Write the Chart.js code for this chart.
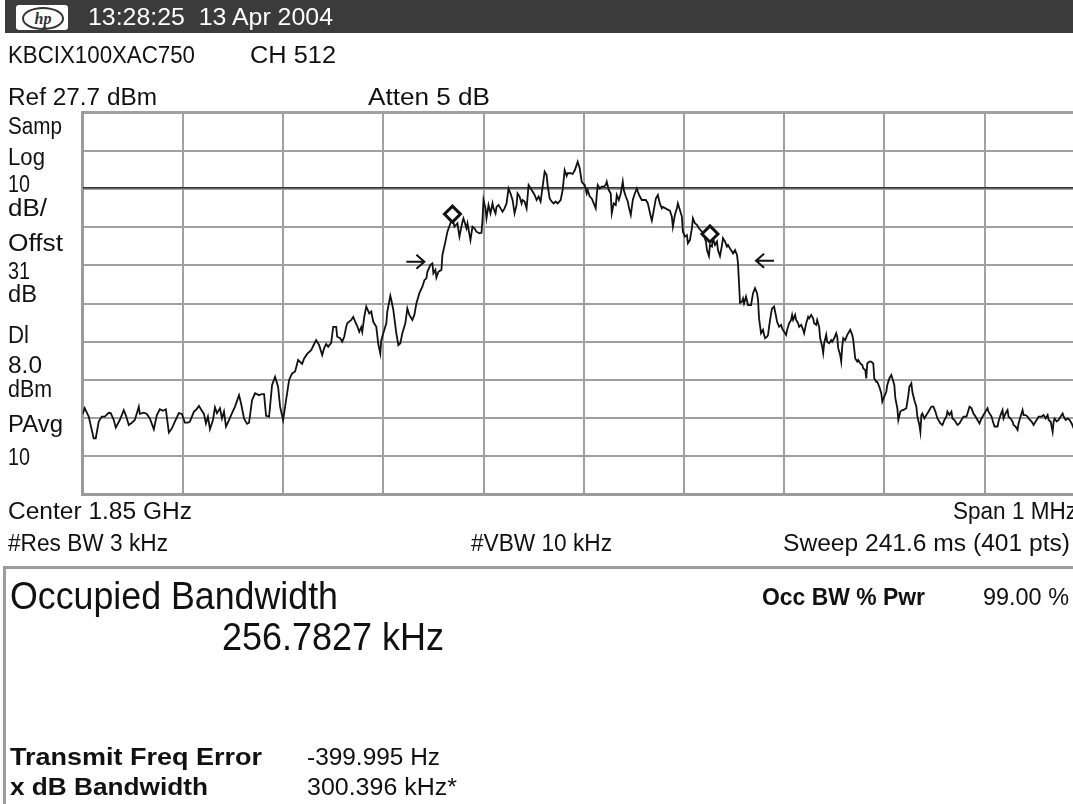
<!DOCTYPE html>
<html>
<head>
<meta charset="utf-8">
<title>Occupied Bandwidth</title>
<script src="https://cdn.jsdelivr.net/npm/chart.js@4.4.1/dist/chart.umd.min.js"></script>
<style>
  html, body { margin: 0; padding: 0; background: #fff; overflow: hidden; }
  body { width: 1073px; height: 804px; position: relative; }
  #bar { position: absolute; left: 5px; top: 0; width: 1068px; height: 33px; background: #3b3b3b; }
  #logo { position: absolute; left: 11px; top: 5px; width: 52px; height: 25px; background: #fff; border-radius: 3px; }
  #logo span { position: absolute; left: 6px; top: 2px; width: 38px; height: 19px; border: 2px solid #333; border-radius: 50%;
               font: italic bold 16px "Liberation Serif", serif; color: #333; text-align: center; line-height: 19px; }
  #plotWrap { position: absolute; left: 0; top: 0; width: 1100px; height: 804px; }
  #box { position: absolute; left: 3px; top: 566px; width: 1100px; height: 260px; border: 3px solid #9c9c9c; box-sizing: border-box; }
  .t { position: absolute; white-space: pre; line-height: 1; transform-origin: 0 50%; color: #111; }
</style>
</head>
<body>
<div id="bar"><div id="logo"><span>hp</span></div></div>
<div id="box"></div>
<div id="plotWrap"><canvas id="spec"></canvas></div>
<script>
// trace: frequency offset from 1.85 GHz centre (kHz) and level (dBm)
const traceFreq = [
  -500, -498, -494, -489, -487, -484, -481, -478, -474, -472,
  -469, -467, -463, -459, -457, -454, -451, -448, -444, -443,
  -439, -436, -433, -429, -426, -423, -420, -417, -414, -411,
  -408, -404, -401, -398, -395, -393, -389, -387, -384, -382,
  -379, -377, -375, -373, -370, -368, -366, -363, -361, -359,
  -357, -354, -351, -348, -344, -342, -339, -336, -334, -331,
  -328, -324, -321, -319, -317, -314, -311, -308, -305, -303,
  -300, -298, -294, -291, -288,
  -285, -281, -279, -276, -272, -269, -267, -264, -261, -259,
  -257, -255, -252, -250, -247, -246, -243, -241, -239, -237,
  -236, -232, -230, -228, -226, -224, -222, -221, -219, -217,
  -214, -212, -210, -207, -205, -203, -202, -200, -197, -196,
  -193, -192, -190, -187, -185, -183, -181, -178, -176, -174,
  -171, -169, -167, -164, -161, -159, -157, -156, -153, -151,
  -150, -148, -147, -145, -142, -141, -138, -136, -133, -131,
  -129, -126, -124, -121, -120, -117, -116, -113, -111, -109,
  -107, -104,
  -102, -101, -100, -98, -97, -95, -93, -91, -90, -88,
  -87, -85, -83, -81, -79, -77, -75, -73, -71, -69,
  -67, -66, -64, -62, -61, -59, -57, -55, -52, -51,
  -49, -47, -45, -43, -41, -39, -37, -36, -34, -32,
  -30, -28, -26, -23, -21, -19, -17, -16, -13, -11,
  -9, -7, -6, -4, -2, -1, 1, 3, 4, 6,
  8, 10, 12, 13, 14, 16, 18, 20, 22, 23,
  25, 27, 28, 30, 32, 33, 35, 37, 39, 40,
  42, 44, 45, 47, 49, 51, 53, 54, 56, 58,
  60, 62, 64, 67, 68, 70, 72,
  74, 76, 78, 79, 83, 86, 88, 89, 91, 93,
  94, 96, 98, 99, 101, 103, 104, 106, 108, 109,
  111, 113, 115, 118, 120, 122, 123, 125, 126, 128,
  129, 131, 133, 134, 136, 138, 139, 141, 143, 144,
  146, 148, 149, 151, 153, 154, 156,
  158, 159, 160, 162, 164, 167, 169, 171, 173, 174,
  175, 177, 179, 180, 181, 183, 184, 185, 187, 188,
  190, 192, 193, 195, 197, 198, 200, 202, 203, 205,
  207, 208, 209, 211, 212, 214, 215, 217, 219, 220,
  222, 224, 225, 227, 229, 230, 232, 233, 235, 236,
  238, 239, 240, 242, 243, 245, 247, 248, 250, 252,
  253, 254, 256, 257, 258, 259, 261, 263, 264, 266,
  268, 269, 271, 273, 274, 276, 278, 279, 281, 282,
  283, 285, 287, 289, 290, 292, 293, 295,
  297, 298, 300, 302, 303, 305, 307, 308, 310, 311,
  313, 314, 316, 318, 319, 322, 324, 325, 327, 328,
  330, 332, 333, 335, 336, 337, 338, 340, 342, 343,
  345, 347, 349, 351, 353, 356, 358, 360, 362, 363,
  365, 367, 368, 370, 373, 375, 377, 379, 382, 383,
  385, 387, 389, 391, 393, 395, 397, 399, 401, 403,
  404, 407, 409, 410, 413, 414, 416, 418, 419, 421,
  423, 424, 426, 428, 429, 431, 433, 434, 436, 438,
  439, 441, 443, 444, 447, 449, 451, 453, 454, 457,
  459, 461, 463, 464, 466, 468, 469, 470, 472, 474,
  476, 478, 479, 481, 483, 485, 487, 489, 495, 500
];
const traceLevel = [
  -51.2, -49.7, -51.9, -57.6, -57.6, -53.2, -51.9, -51.9, -50.9, -51.0,
  -52.8, -54.8, -52.8, -50.2, -51.5, -54.1, -53.5, -52.8, -49.3, -51.2,
  -50.9, -51.2, -52.4, -55.2, -51.5, -50.0, -50.4, -50.0, -56.1, -55.0,
  -53.2, -51.0, -51.2, -53.5, -53.5, -53.2, -50.6, -50.2, -49.1, -50.0,
  -51.2, -53.7, -51.9, -55.2, -52.8, -49.5, -51.0, -49.7, -52.4, -50.6,
  -54.5, -52.8, -51.0, -49.3, -46.3, -48.4, -52.4, -53.8, -53.5, -47.6,
  -45.8, -46.3, -46.0, -46.0, -51.7, -51.9, -43.6, -41.5, -44.1, -49.3,
  -52.8, -49.3, -42.3, -40.6, -40.1,
  -37.1, -38.1, -36.7, -35.5, -34.5, -32.9, -31.9, -33.2, -35.8, -34.0,
  -32.9, -33.6, -32.6, -28.4, -28.4, -31.0, -31.4, -32.3, -31.0, -28.4,
  -27.5, -26.6, -25.8, -27.1, -28.2, -29.7, -28.5, -29.7, -25.8, -23.1,
  -24.9, -24.4, -27.1, -28.4, -32.9, -35.4, -31.9, -30.1, -27.5, -24.4,
  -20.3, -21.4, -24.0, -30.1, -33.2, -32.7, -30.1, -27.5, -23.6, -25.3,
  -26.6, -25.3, -22.3, -19.6, -17.9, -16.2, -15.7, -14.0, -12.2, -11.8,
  -14.4, -13.5, -15.5, -14.0, -13.5, -9.6, -6.1, -3.5, -1.3, 0.0,
  -2.2, -1.3, -4.8, -0.9, 0.0, -2.6, -1.3, -5.7, -2.2, -2.6,
  -3.5, -3.9,
  -3.8, -0.4, 4.8, 2.6, 0.0, 3.5, 1.3, 3.9, 2.6, 1.3,
  3.0, 3.5, 2.6, 1.7, 2.6, 3.9, 7.8, 6.5, 4.8, 1.3,
  3.5, 6.5, 5.7, 3.9, 4.8, 4.4, 2.6, 8.7, 7.4, 7.0,
  6.1, 4.8, 5.7, 4.4, 8.3, 12.2, 11.3, 8.7, 5.2, 4.4,
  3.9, 4.4, 3.9, 4.8, 7.4, 12.6, 11.1, 11.8, 11.8, 11.6,
  12.5, 14.0, 14.8, 13.1, 9.6, 9.2, 8.7, 6.5, 7.4, 5.7,
  5.2, 3.9, 2.6, 6.1, 8.7, 7.8, 8.3, 8.3, 8.7, 9.6,
  7.4, 6.5, 1.3, 3.9, 3.5, 6.1, 4.8, 6.5, 9.6, 7.4,
  5.7, 4.4, 3.0, 0.9, 4.8, 6.5, 7.8, 7.0, 5.7, 4.8,
  4.8, 4.8, 3.9, 0.4, -0.6, 2.2, 5.2,
  6.1, 3.9, 2.6, 3.0, 2.4, 2.0, 0.4, -2.2, 0.9, 2.6,
  3.9, 2.2, 0.4, -3.5, -4.8, -4.4, -6.5, -5.7, -2.6, 0.0,
  -1.3, -1.7, -2.6, -3.5, -4.4, -6.1, -8.3, -9.9, -7.0, -7.4,
  -5.2, -7.0, -6.1, -8.3, -9.9, -7.0, -5.2, -6.1, -7.4, -7.0,
  -7.9, -8.7, -9.2, -8.3, -9.6, -11.8, -22.1,
  -21.8, -21.0, -22.3, -20.5, -22.7, -22.7, -19.6, -18.3, -19.6, -21.4,
  -26.2, -30.1, -29.2, -30.5, -31.4, -31.0, -30.5, -28.4, -24.9, -23.6,
  -23.1, -25.7, -27.1, -28.4, -27.9, -28.8, -29.7, -30.5, -29.2, -27.5,
  -26.6, -25.3, -26.6, -25.3, -26.6, -27.5, -28.4, -27.9, -29.2, -30.1,
  -27.5, -25.8, -26.2, -25.3, -26.2, -27.5, -27.9, -26.6, -28.4, -31.4,
  -33.6, -35.3, -32.7, -30.5, -32.3, -32.7, -31.9, -32.3, -31.4, -30.1,
  -31.0, -34.0, -35.8, -37.5, -33.6, -31.4, -31.9, -30.5, -30.1, -29.2,
  -30.5, -31.9, -36.7, -37.5, -37.1, -38.0, -38.4, -39.3, -39.7, -41.9,
  -38.0, -37.5, -37.5, -38.0, -41.9, -42.8, -42.8, -44.1,
  -45.8, -48.0, -46.7, -45.4, -43.6, -41.9, -41.0, -41.9, -43.6, -47.1,
  -49.7, -52.8, -50.6, -50.2, -50.2, -49.7, -46.3, -44.1, -43.2, -45.4,
  -47.6, -49.3, -51.9, -54.1, -55.9, -51.5, -51.1, -52.4, -51.5, -51.1,
  -50.2, -49.3, -49.3, -50.6, -52.4, -53.7, -54.1, -52.8, -51.9, -50.6,
  -51.5, -50.6, -52.4, -52.8, -54.1, -53.7, -52.8, -51.9, -51.9, -51.1,
  -49.3, -49.7, -51.1, -51.9, -52.8, -53.7, -52.4, -51.5, -50.6, -49.7,
  -50.6, -51.9, -53.7, -54.5, -54.5, -53.2, -51.5, -50.2, -52.4, -51.1,
  -50.2, -51.9, -52.4, -53.2, -54.1, -54.5, -55.4, -53.7, -51.9, -50.2,
  -51.5, -51.5, -51.9, -52.4, -53.2, -54.1, -53.2, -52.4, -51.9, -51.9,
  -51.5, -52.4, -51.5, -52.8, -53.2, -55.9, -53.2, -52.4, -53.2, -52.8,
  -51.9, -51.1, -51.9, -52.8, -52.4, -52.8, -53.7, -55.0, -54.6, -53.8
];

// occupied bandwidth markers (diamonds) and x dB bandwidth arrows
const markerFreq = [-131, 126];
const markerLevel = [1.1, -4.1];
const arrowFreq = [-159, 172];
const arrowLevel = [-11.4, -11.1];
const arrowDir = [1, -1];

// display line, reference level, 10 dB/div
const displayLine = 8.0;
const yTicks = [-72.3, -62.3, -52.3, -42.3, -32.3, -22.3, -12.3, -2.3, 7.7, 17.7, 27.7];
const xTicks = [-500, -400, -300, -200, -100, 0, 100, 200, 300, 400, 500];

// screen text: [text, left, middle, size, width, weight, color]
const texts = [
  ['13:28:25  13 Apr 2004', 88, 17, 23, 245, 'normal', '#fff'],
  ['KBCIX100XAC750', 8, 55, 23, 187],
  ['CH 512', 250, 55, 23, 86],
  ['Ref 27.7 dBm', 8, 97, 23, 149],
  ['Atten 5 dB', 368, 97, 23, 122],
  ['Samp', 8, 126, 23, 54],
  ['Log', 8, 157, 23, 37],
  ['10', 8, 184, 23, 22],
  ['dB/', 8, 208, 23, 39],
  ['Offst', 8, 243, 23, 55],
  ['31', 8, 271, 23, 22],
  ['dB', 8, 294, 23, 29],
  ['Dl', 8, 335, 23, 21],
  ['8.0', 8, 365, 23, 34],
  ['dBm', 8, 389, 23, 44],
  ['PAvg', 8, 424, 23, 55],
  ['10', 8, 457, 23, 22],
  ['Center 1.85 GHz', 8, 511, 23, 184],
  ['Span 1 MHz', 953, 511, 23, 124],
  ['#Res BW 3 kHz', 8, 543, 23, 160],
  ['#VBW 10 kHz', 471, 543, 23, 141],
  ['Sweep 241.6 ms (401 pts)', 783, 543, 23, 287],
  ['Occupied Bandwidth', 10, 596, 39, 328],
  ['256.7827 kHz', 222, 637, 39, 222],
  ['Occ BW % Pwr', 762, 597, 23, 163, 'bold'],
  ['99.00 %', 983, 597, 23, 86],
  ['Transmit Freq Error', 10, 757, 23, 252, 'bold'],
  ['-399.995 Hz', 307, 757, 23, 133],
  ['x dB Bandwidth', 10, 787, 23, 198, 'bold'],
  ['300.396 kHz*', 307, 787, 23, 150]
];

texts.forEach(([text, x, y, size, width, weight = 'normal', color = '#111']) => {
  const el = document.createElement('div');
  el.className = 't';
  el.textContent = text;
  el.style.font = `${weight} ${size}px "Liberation Sans", Arial, sans-serif`;
  el.style.color = color;
  el.style.left = x + 'px';
  document.body.appendChild(el);
  const r = el.getBoundingClientRect();
  el.style.top = (y - r.height / 2) + 'px';
  el.style.transform = `scaleX(${width / r.width})`;
});

// arrows for the x dB bandwidth edges
const arrowPlugin = {
  id: 'xdbArrows',
  afterDatasetsDraw(chart) {
    const { ctx, scales: { x, y } } = chart;
    ctx.save();
    ctx.strokeStyle = '#111';
    ctx.lineWidth = 2;
    arrowFreq.forEach((f, i) => {
      const px = x.getPixelForValue(f);
      const py = y.getPixelForValue(arrowLevel[i]);
      const d = arrowDir[i];
      ctx.beginPath();
      ctx.moveTo(px - d * 18, py);
      ctx.lineTo(px, py);
      ctx.moveTo(px - d * 8, py - 7);
      ctx.lineTo(px, py);
      ctx.lineTo(px - d * 8, py + 7);
      ctx.stroke();
    });
    ctx.restore();
  }
};

const gridColor = '#a0a0a0';

new Chart(document.getElementById('spec'), {
  type: 'scatter',
  data: {
    datasets: [
      {
        data: markerFreq.map((f, i) => ({ x: f, y: markerLevel[i] })),
        pointStyle: 'rectRot',
        pointRadius: 8,
        borderWidth: 3,
        borderColor: '#111',
        backgroundColor: '#fff',
        showLine: false
      },
      {
        data: traceFreq.map((f, i) => ({ x: f, y: traceLevel[i] })),
        showLine: true,
        borderColor: '#111',
        borderWidth: 1.8,
        pointRadius: 0,
        tension: 0
      },
      {
        data: [{ x: xTicks[0], y: displayLine }, { x: xTicks[xTicks.length - 1], y: displayLine }],
        showLine: true,
        borderColor: '#333',
        borderWidth: 1.6,
        pointRadius: 0
      }
    ]
  },
  options: {
    responsive: true,
    maintainAspectRatio: false,
    animation: false,
    devicePixelRatio: 1,
    layout: { padding: { left: 82.7, top: 112.5, right: 15.3, bottom: 309.5 } },
    plugins: { legend: { display: false }, tooltip: { enabled: false } },
    scales: {
      x: {
        type: 'linear',
        min: -500,
        max: 500,
        afterBuildTicks: s => { s.ticks = xTicks.map(v => ({ value: v })); },
        ticks: { display: false },
        grid: { color: gridColor, lineWidth: 2, drawTicks: false },
        border: { color: '#9a9a9a', width: 3 }
      },
      y: {
        type: 'linear',
        min: yTicks[0],
        max: yTicks[yTicks.length - 1],
        afterBuildTicks: s => { s.ticks = yTicks.map(v => ({ value: v })); },
        ticks: { display: false },
        grid: {
          color: gridColor,
          drawTicks: false,
          lineWidth: c => (c.index === yTicks.length - 1 ? 3 : 2)
        },
        border: { color: '#9a9a9a', width: 3 }
      }
    }
  },
  plugins: [arrowPlugin]
});
</script>
</body>
</html>
